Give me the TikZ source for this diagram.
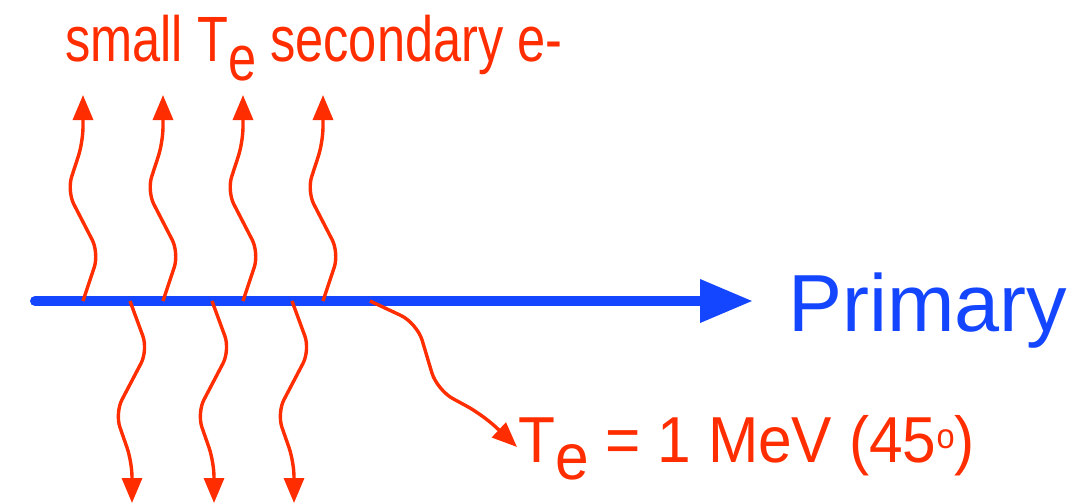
\documentclass[tikz,border=0pt]{standalone}
\usepackage{fontspec}
\setmainfont{Liberation Sans}
\usetikzlibrary{arrows.meta}
\definecolor{elred}{RGB}{255,45,0}
\definecolor{primblue}{RGB}{20,70,255}

\begin{document}
\begin{tikzpicture}[x=1pt, y=-1pt,
    electron/.style={elred, line width=3.4pt, rounded corners=15pt, -{Triangle[length=25pt,width=20pt]}},
    txt/.style={inner sep=0pt, anchor=base west}]
    \useasboundingbox (0,0) rectangle (1070,503);
    % primary track
    \coordinate (start) at (35,301);
    \coordinate (tip) at (753,301);
    \draw[primblue, line width=10pt, line cap=round, -{Triangle[length=53pt,width=41pt]}] (start) -- (tip);
    \node[txt, primblue, font=\fontsize{81}{90}\selectfont] (primary) at (788,331) {Primary};
    % secondary electrons
    \foreach \x [count=\i] in {83,163,243,323} {
        \coordinate (up\i) at (\x,301);
        \draw[electron] (up\i) -- ++(16,-48) -- ++(-32,-62) -- ++(16,-49) -- ++(0,-47);
    }
    \foreach \x [count=\i] in {130,212,292} {
        \coordinate (dn\i) at (\x,301);
        \draw[electron] (dn\i) -- ++(18,49) -- ++(-33,63) -- ++(17,49) -- ++(0,41);
    }
    \node[txt, elred, font=\fontsize{64}{70}\selectfont] (small) at (65,62)
        {\scalebox{0.79}[1]{small T\raisebox{-19pt}{e} secondary e-}};
    % hard delta ray
    \node[txt, elred, font=\fontsize{65}{72}\selectfont] (energy) at (518,462)
        {\scalebox{0.93}[1]{T\raisebox{-17pt}{e} = 1 MeV (45\raisebox{14pt}{\fontsize{35}{35}\selectfont o})}};
    \coordinate (hard) at (370,301);
    \coordinate (kick) at (517,447);
    \draw[electron, rounded corners=18pt] (hard) -- (417,323) -- (437,390) -- (483,415) -- (kick);
\end{tikzpicture}
\end{document}
